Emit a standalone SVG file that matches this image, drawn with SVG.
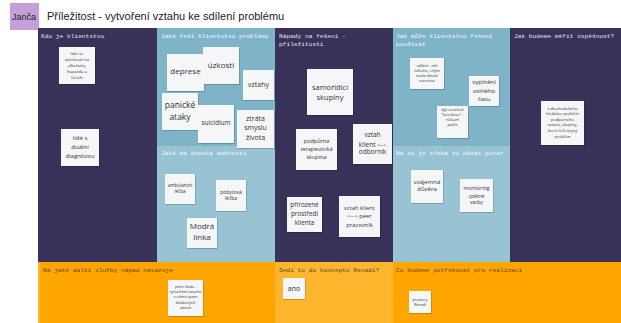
<svg xmlns="http://www.w3.org/2000/svg" width="621" height="323" viewBox="0 0 621 323">
<defs>
<filter id="sh" x="-10%" y="-10%" width="130%" height="130%"><feDropShadow dx="0.6" dy="0.8" stdDeviation="0.6" flood-color="#000" flood-opacity="0.25"/></filter>
<style>
.n{fill:#f5f6f8;filter:url(#sh)}
.t{font-family:"Open Sans","Liberation Sans",sans-serif;fill:#333;text-anchor:middle}
.h{font-family:"Liberation Mono","DejaVu Sans Mono",monospace;font-size:6.2px}
.hd{fill:#e2e2ea}
.hb{fill:#f4f8fa}
.ho{fill:#5b4a2e}
</style>
</defs>
<rect width="621" height="323" fill="#ffffff"/>
<g id="header">
<rect x="10" y="3" width="29" height="27" fill="#c69fd8"/>
<text x="12" y="20" font-family="Liberation Sans, sans-serif" font-size="9" fill="#222">Janča</text>
<text x="47" y="20" font-family="Liberation Sans, sans-serif" font-size="11" fill="#222">Příležitost - vytvoření vztahu ke sdílení problému</text>
</g>
<g id="board">
<rect x="38" y="28" width="119" height="234" fill="#383259"/>
<rect x="157" y="28" width="118" height="118" fill="#7fb3c8"/>
<rect x="157" y="146" width="118" height="116" fill="#97c3d3"/>
<rect x="275" y="28" width="118" height="234" fill="#383259"/>
<rect x="393" y="28" width="117" height="118" fill="#7fb3c8"/>
<rect x="393" y="146" width="117" height="116" fill="#97c3d3"/>
<rect x="510" y="28" width="111" height="234" fill="#383259"/>
<rect x="38" y="262" width="237" height="61" fill="#ffa500"/>
<rect x="38" y="262" width="2" height="61" fill="#ffb52e"/>
<rect x="275" y="262" width="118" height="61" fill="#ffb52e"/>
<rect x="393" y="262" width="228" height="61" fill="#ffa500"/>
<text class="h hd" x="41" y="38">Kdo je klientstvo</text>
<text class="h hb" x="161" y="38">Jaké řeší klientstvo problémy</text>
<text class="h hd" x="279" y="38">Nápady na řešení -</text>
<text class="h hd" x="279" y="46">příležitosti</text>
<text class="h hb" x="396" y="38">Jak může klientstvo řešení</text>
<text class="h hb" x="396" y="46">používat</text>
<text class="h hd" x="514" y="38">Jak budeme měřit úspěšnost?</text>
<text class="h hb" x="161" y="155">Jaké má dneska možnosti</text>
<text class="h hb" x="396" y="155">Na co je třeba si dávat pozor</text>
<text class="h ho" x="43" y="272">Na jaké další služby nápad navazuje</text>
<text class="h ho" x="279" y="272">Sedí to do konceptu Renadi?</text>
<text class="h ho" x="396" y="272">Co budeme potřebovat pro realizaci</text>
</g>
<g id="n-zavislost"><rect class="n" x="59" y="47" width="36" height="37"/>
<text class="t" font-size="4.3"><tspan x="77" y="54.8">lidé se</tspan><tspan x="77" y="60.8">závislostí na</tspan><tspan x="77" y="66.8">alkoholu,</tspan><tspan x="77" y="72.8">hazardu a</tspan><tspan x="77" y="78.8">lécích</tspan></text></g>
<g id="n-dualni"><rect class="n" x="61" y="129" width="38" height="37"/>
<text class="t" font-size="6"><tspan x="80" y="140">lidé s</tspan><tspan x="80" y="149">duální</tspan><tspan x="80" y="157.5">diagnózou</tspan></text></g>
<g id="n-deprese"><rect class="n" x="167" y="54" width="37" height="37"/>
<text class="t" font-size="8" x="185.5" y="74">deprese</text></g>
<g id="n-uzkosti"><rect class="n" x="203" y="47" width="36" height="37"/>
<text class="t" font-size="8" x="221" y="67.5">úzkosti</text></g>
<g id="n-vztahy"><rect class="n" x="243" y="70" width="31" height="30"/>
<text class="t" font-size="7" x="258.5" y="86.5">vztahy</text></g>
<g id="n-panicke"><rect class="n" x="162" y="93" width="36" height="37"/>
<text class="t" font-size="8.5"><tspan x="180" y="108.3">panické</tspan><tspan x="180" y="120.3">ataky</tspan></text></g>
<g id="n-suicidium"><rect class="n" x="198" y="105" width="36" height="38"/>
<text class="t" font-size="6.5" x="216" y="124.5">suicidium</text></g>
<g id="n-ztrata"><rect class="n" x="237" y="110" width="37" height="38"/>
<text class="t" font-size="7"><tspan x="255.5" y="120.5">ztráta</tspan><tspan x="255.5" y="130">smyslu</tspan><tspan x="255.5" y="139.5">života</tspan></text></g>
<g id="n-ambulantni"><rect class="n" x="165" y="174" width="30" height="30"/>
<text class="t" font-size="4.5"><tspan x="180" y="186.5">ambulantní</tspan><tspan x="180" y="193">léčba</tspan></text></g>
<g id="n-pobytova"><rect class="n" x="216" y="180" width="30" height="31"/>
<text class="t" font-size="5"><tspan x="231" y="193.5">pobytová</tspan><tspan x="231" y="200">léčba</tspan></text></g>
<g id="n-modra"><rect class="n" x="187" y="218" width="30" height="30"/>
<text class="t" font-size="8"><tspan x="202" y="229">Modrá</tspan><tspan x="202" y="239.5">linka</tspan></text></g>
<g id="n-samoridici"><rect class="n" x="307" y="69" width="46" height="46"/>
<text class="t" font-size="7.5"><tspan x="330" y="89.7">samořídicí</tspan><tspan x="330" y="100">skupiny</tspan></text></g>
<g id="n-podpurna"><rect class="n" x="296" y="129" width="41" height="41"/>
<text class="t" font-size="5.5"><tspan x="316.5" y="142.5">podpůrná</tspan><tspan x="316.5" y="151">terapeutická</tspan><tspan x="316.5" y="158.5">skupina</tspan></text></g>
<g id="n-odbornik"><rect class="n" x="353" y="124" width="39" height="40"/>
<text class="t" font-size="6.5"><tspan x="372.5" y="137">vztah</tspan><tspan x="372.5" y="146.5">klient <tspan font-size="5">&lt;--&gt;</tspan></tspan><tspan x="372.5" y="154">odborník</tspan></text></g>
<g id="n-prirozene"><rect class="n" x="287" y="197" width="35" height="35"/>
<text class="t" font-size="6.3"><tspan x="304.5" y="207">přirozené</tspan><tspan x="304.5" y="216">prostředí</tspan><tspan x="304.5" y="224.7">klienta</tspan></text></g>
<g id="n-peer"><rect class="n" x="339" y="196" width="41" height="41"/>
<text class="t" font-size="5.8"><tspan x="359.5" y="209.5">vztah klient</tspan><tspan x="359.5" y="218">&lt;--&gt; peer</tspan><tspan x="359.5" y="227">pracovník</tspan></text></g>
<g id="n-sdileni"><rect class="n" x="410" y="58" width="34" height="31"/>
<text class="t" font-size="3.8"><tspan x="427" y="66.8">sdílení - mít</tspan><tspan x="427" y="71.8">někoho, s kým</tspan><tspan x="427" y="76.8">může mluvit</tspan><tspan x="427" y="81.8">narovinu</tspan></text></g>
<g id="n-volny"><rect class="n" x="469" y="76" width="30" height="30"/>
<text class="t" font-size="6"><tspan x="484" y="84">vyplnění</tspan><tspan x="484" y="93">volného</tspan><tspan x="484" y="101">času</tspan></text></g>
<g id="n-soucast"><rect class="n" x="437" y="106" width="31" height="32"/>
<text class="t" font-size="4"><tspan x="452.5" y="111">být součástí</tspan><tspan x="452.5" y="116">"kolektivu" -</tspan><tspan x="452.5" y="121">někam</tspan><tspan x="452.5" y="126">patřit</tspan></text></g>
<g id="n-duvera"><rect class="n" x="411" y="170" width="32" height="33"/>
<text class="t" font-size="6"><tspan x="427" y="183.7">vzájemná</tspan><tspan x="427" y="191">důvěra</tspan></text></g>
<g id="n-monitoring"><rect class="n" x="460" y="179" width="33" height="33"/>
<text class="t" font-size="5"><tspan x="476.5" y="190">monitoring</tspan><tspan x="476.5" y="197.5">zpětné</tspan><tspan x="476.5" y="204">vazby</tspan></text></g>
<g id="n-uspesnost"><rect class="n" x="541" y="101" width="43" height="44"/>
<text class="t" font-size="4"><tspan x="562.5" y="109.5">z dlouhodobého</tspan><tspan x="562.5" y="115.1">hlediska opuštění</tspan><tspan x="562.5" y="120.7">podpůrného</tspan><tspan x="562.5" y="126.3">vztahu, skupiny,</tspan><tspan x="562.5" y="131.9">která řeší stejný</tspan><tspan x="562.5" y="137.5">problém</tspan></text></g>
<g id="n-peerklub"><rect class="n" x="168" y="280" width="35" height="36"/>
<text class="t" font-size="4.2"><tspan x="185.5" y="288">peer klub -</tspan><tspan x="185.5" y="293.2">vytvoření vztahů</tspan><tspan x="185.5" y="298.4">v rámci peer</tspan><tspan x="185.5" y="303.6">klubových</tspan><tspan x="185.5" y="308.8">aktivit</tspan></text></g>
<g id="n-ano"><rect class="n" x="283" y="278" width="22" height="21"/>
<text class="t" font-size="7" x="294" y="290.5">ano</text></g>
<g id="n-prostory"><rect class="n" x="409" y="291" width="22" height="22"/>
<text class="t" font-size="3.8"><tspan x="420" y="300.5">prostory</tspan><tspan x="420" y="306">Renadi</tspan></text></g>
</svg>
